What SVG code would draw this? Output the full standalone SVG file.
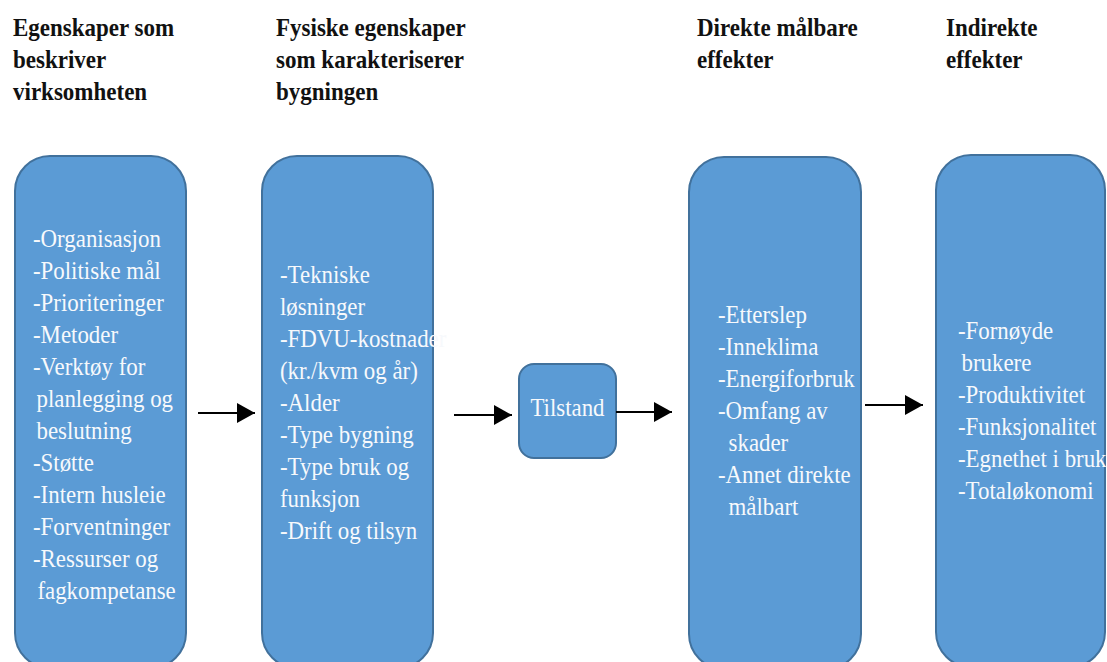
<svg xmlns="http://www.w3.org/2000/svg" width="1107" height="662" viewBox="0 0 1107 662">
  <style>
    .head { font-family: 'Liberation Serif', 'Times New Roman', serif; font-weight: bold; font-size: 25px; fill: #111; }
    .box { fill: #5B9BD5; stroke: #41719C; stroke-width: 2; }
    .item { font-family: 'Liberation Serif', 'Times New Roman', serif; font-size: 26px; fill: #f7f9fc; }
    .link { stroke: #000; stroke-width: 2; fill: none; marker-end: url(#arrow); }
  </style>
  <defs>
    <marker id="arrow" viewBox="0 0 18 20" refX="18" refY="10" markerWidth="18" markerHeight="20" markerUnits="userSpaceOnUse" orient="auto">
      <path d="M0,0 L18,10 L0,20 Z" fill="#000"/>
    </marker>
  </defs>
  <rect width="1107" height="662" fill="#ffffff"/>

  <!-- column headings (narrowed serif, anchored at each column's left edge) -->
  <g id="headings">
    <g transform="matrix(0.92 0 0 1 1.04 0)">
      <text class="head" x="13" y="36">Egenskaper som</text>
      <text class="head" x="13" y="68">beskriver</text>
      <text class="head" x="13" y="100">virksomheten</text>
    </g>
    <g transform="matrix(0.92 0 0 1 22.08 0)">
      <text class="head" x="276" y="36">Fysiske egenskaper</text>
      <text class="head" x="276" y="68">som karakteriserer</text>
      <text class="head" x="276" y="100">bygningen</text>
    </g>
    <g transform="matrix(0.92 0 0 1 55.76 0)">
      <text class="head" x="697" y="36">Direkte målbare</text>
      <text class="head" x="697" y="68">effekter</text>
    </g>
    <g transform="matrix(0.92 0 0 1 75.68 0)">
      <text class="head" x="946" y="36">Indirekte</text>
      <text class="head" x="946" y="68">effekter</text>
    </g>
  </g>

  <!-- organisation properties -->
  <g id="virksomhet">
    <rect class="box" x="15" y="156" width="171" height="512" rx="35" ry="35"/>
    <g transform="matrix(0.88 0 0 1 3.96 0)">
      <text class="item" x="33" y="247">-Organisasjon</text>
      <text class="item" x="33" y="279">-Politiske mål</text>
      <text class="item" x="33" y="311">-Prioriteringer</text>
      <text class="item" x="33" y="343">-Metoder</text>
      <text class="item" x="33" y="375">-Verktøy for</text>
      <text class="item" x="37" y="407">planlegging og</text>
      <text class="item" x="37" y="439">beslutning</text>
      <text class="item" x="33" y="471">-Støtte</text>
      <text class="item" x="33" y="503">-Intern husleie</text>
      <text class="item" x="33" y="535">-Forventninger</text>
      <text class="item" x="33" y="567">-Ressurser og</text>
      <text class="item" x="38" y="599">fagkompetanse</text>
    </g>
  </g>

  <!-- physical building properties -->
  <g id="bygning">
    <rect class="box" x="262" y="156" width="171" height="512" rx="35" ry="35"/>
    <g transform="matrix(0.88 0 0 1 33.6 0)">
      <text class="item" x="280" y="283">-Tekniske</text>
      <text class="item" x="280" y="315">løsninger</text>
      <text class="item" x="280" y="347">-FDVU-kostnader</text>
      <text class="item" x="280" y="379">(kr./kvm og år)</text>
      <text class="item" x="280" y="411">-Alder</text>
      <text class="item" x="280" y="443">-Type bygning</text>
      <text class="item" x="280" y="475">-Type bruk og</text>
      <text class="item" x="280" y="507">funksjon</text>
      <text class="item" x="280" y="539">-Drift og tilsyn</text>
    </g>
  </g>

  <!-- condition -->
  <g id="tilstand">
    <rect class="box" x="519" y="364" width="97" height="94" rx="15" ry="15"/>
    <g transform="matrix(0.88 0 0 1 68.1 0)">
      <text class="item" x="567.5" y="416" text-anchor="middle" font-size="25">Tilstand</text>
    </g>
  </g>

  <!-- directly measurable effects -->
  <g id="direkte">
    <rect class="box" x="689" y="157" width="172" height="512" rx="35" ry="35"/>
    <g transform="matrix(0.88 0 0 1 86.16 0)">
      <text class="item" x="718" y="323">-Etterslep</text>
      <text class="item" x="718" y="355">-Inneklima</text>
      <text class="item" x="718" y="387">-Energiforbruk</text>
      <text class="item" x="718" y="419">-Omfang av</text>
      <text class="item" x="730" y="451">skader</text>
      <text class="item" x="718" y="483">-Annet direkte</text>
      <text class="item" x="730" y="515">målbart</text>
    </g>
  </g>

  <!-- indirect effects -->
  <g id="indirekte">
    <rect class="box" x="936" y="155" width="169" height="512" rx="35" ry="35"/>
    <g transform="matrix(0.88 0 0 1 114.96 0)">
      <text class="item" x="958" y="339">-Fornøyde</text>
      <text class="item" x="962" y="371">brukere</text>
      <text class="item" x="958" y="403">-Produktivitet</text>
      <text class="item" x="958" y="435">-Funksjonalitet</text>
      <text class="item" x="958" y="467">-Egnethet i bruk</text>
      <text class="item" x="958" y="499">-Totaløkonomi</text>
    </g>
  </g>

  <!-- arrows between stages -->
  <g id="connectors">
    <line class="link" x1="198" y1="413" x2="255" y2="413"/>
    <line class="link" x1="454" y1="415" x2="512" y2="415"/>
    <line class="link" x1="616" y1="412" x2="672" y2="412"/>
    <line class="link" x1="865" y1="405" x2="923" y2="405"/>
  </g>
</svg>
